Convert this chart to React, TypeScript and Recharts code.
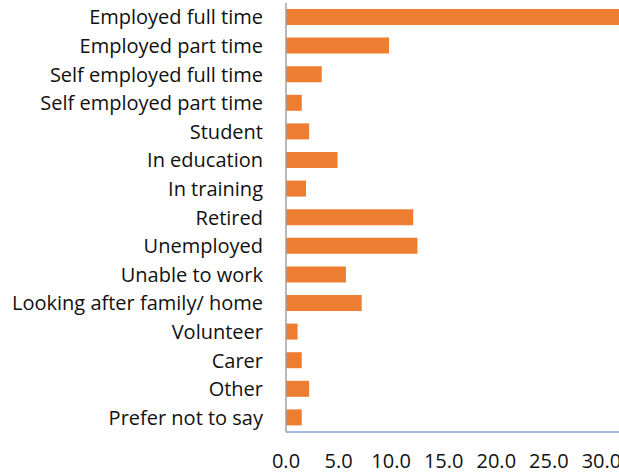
import React from "react";
import { BarChart, Bar, XAxis, YAxis } from "recharts";

const categories = [
  "Employed full time",
  "Employed part time",
  "Self employed full time",
  "Self employed part time",
  "Student",
  "In education",
  "In training",
  "Retired",
  "Unemployed",
  "Unable to work",
  "Looking after family/ home",
  "Volunteer",
  "Carer",
  "Other",
  "Prefer not to say",
];

const percentages = [32.5, 9.8, 3.4, 1.5, 2.2, 4.9, 1.9, 12.1, 12.5, 5.7, 7.2, 1.1, 1.5, 2.2, 1.5];

const xTicks = [0, 5, 10, 15, 20, 25, 30, 35];

const data = categories.map((name, i) => ({ name, value: percentages[i] }));

const FONT = "'Open Sans', Lato, sans-serif";

export default function App() {
  return (
    <div style={{ position: "fixed", left: 0, top: 0, width: 619, height: 473, overflow: "hidden", background: "#fff" }}>
      <BarChart
        width={680}
        height={473}
        layout="vertical"
        data={data}
        margin={{ top: 3, right: 26, left: 0, bottom: 0 }}
        barSize={16}
      >
        <XAxis
          type="number"
          domain={[0, 35]}
          ticks={xTicks}
          tickFormatter={(v: number) => v.toFixed(1)}
          stroke="#4472C4"
          tickLine={false}
          tickSize={0}
          tickMargin={22}
          height={41}
          tick={{ fill: "#111", fontSize: 20, fontFamily: FONT }}
          interval={0}
        />
        <YAxis
          type="category"
          dataKey="name"
          width={286}
          stroke="#a0a0a0"
          strokeWidth={1.5}
          tickLine={false}
          tickSize={0}
          tickMargin={23}
          tick={{ fill: "#111", fontSize: 20, fontFamily: FONT }}
          interval={0}
        />
        <Bar dataKey="value" fill="#ED7D31" isAnimationActive={false} />
      </BarChart>
    </div>
  );
}
